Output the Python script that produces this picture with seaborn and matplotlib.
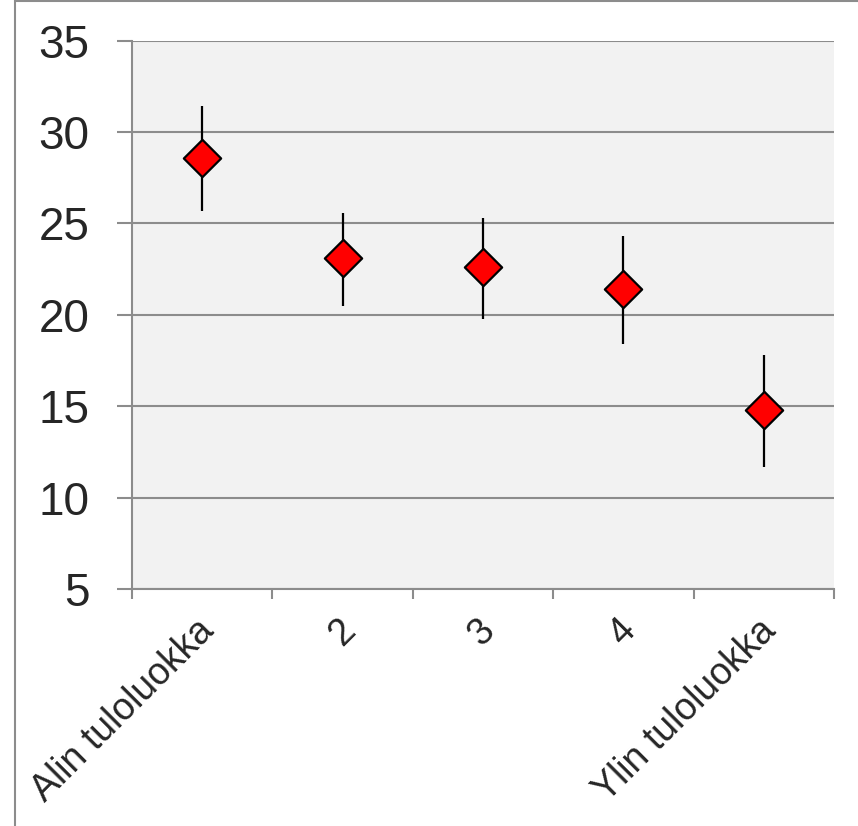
import matplotlib
matplotlib.use("Agg")
import matplotlib.pyplot as plt
import matplotlib.transforms as mtransforms
from matplotlib.lines import Line2D
import seaborn as sns
import pandas as pd

# Income classes and the estimate with its interval for each
categories = ["Alin tuloluokka", "2", "3", "4", "Ylin tuloluokka"]
means = [28.6, 23.1, 22.6, 21.4, 14.8]
lower = [25.7, 20.5, 19.8, 18.4, 11.7]
upper = [31.4, 25.6, 25.3, 24.3, 17.8]
y_ticks = [5, 10, 15, 20, 25, 30, 35]

df = pd.DataFrame({"luokka": categories, "arvo": means,
                   "ala": lower, "yla": upper})

sns.set_style("white")
plt.rcParams["font.family"] = ["Liberation Sans", "DejaVu Sans"]

fig = plt.figure(figsize=(8.58, 8.26), dpi=100)
ax = fig.add_axes([132 / 858, 1 - 589 / 826, (834 - 132) / 858, (589 - 40.7) / 826])
ax.set_facecolor("#F2F2F2")

grid_color = "#8C8C8C"

# interval whiskers
ax.vlines(x=range(len(df)), ymin=df["ala"], ymax=df["yla"],
          colors="black", linewidth=1.6, zorder=3)

sns.scatterplot(data=df, x="luokka", y="arvo", marker="D", s=19 ** 2,
                color="#FF0000", edgecolor="black", linewidth=1.6,
                zorder=4, ax=ax, legend=False)

ax.set_xlim(-0.5, len(categories) - 0.5)
ax.set_ylim(5, 35)
ax.set_yticks(y_ticks)
ax.set_yticklabels([str(v) for v in y_ticks], fontsize=33)
ax.yaxis.grid(True, color=grid_color, linewidth=1.5)
ax.set_axisbelow(True)

# category labels at centers, tick marks at category boundaries
ax.set_xticks(range(len(categories)))
ax.set_xticklabels(categories, fontsize=27, rotation=45, ha="right",
                   rotation_mode="anchor")
ax.tick_params(axis="x", which="major", length=0, pad=17)
shift = mtransforms.ScaledTranslation(-6 / 100, 0, fig.dpi_scale_trans)
for lbl in ax.get_xticklabels():
    lbl.set_transform(lbl.get_transform() + shift)
ax.set_xticks([i - 0.5 for i in range(len(categories) + 1)], minor=True)
ax.tick_params(axis="x", which="minor", length=7.5, width=1.5,
               color=grid_color, bottom=True)
ax.tick_params(axis="y", which="major", length=10.5, width=1.5,
               color=grid_color, pad=20, left=True)

for side in ["top", "right"]:
    ax.spines[side].set_visible(False)
for side in ["left", "bottom"]:
    ax.spines[side].set_color(grid_color)
    ax.spines[side].set_linewidth(1.5)

ax.set_xlabel("")
ax.set_ylabel("")

# outer frame of the chart area
fig.add_artist(Line2D([15 / 858, 15 / 858], [0, 1], color=grid_color,
                      linewidth=1.5, transform=fig.transFigure))
fig.add_artist(Line2D([15 / 858, 1], [1 - 0.8 / 826, 1 - 0.8 / 826],
                      color=grid_color, linewidth=1.5,
                      transform=fig.transFigure))

fig.savefig("out.png", dpi=100)
